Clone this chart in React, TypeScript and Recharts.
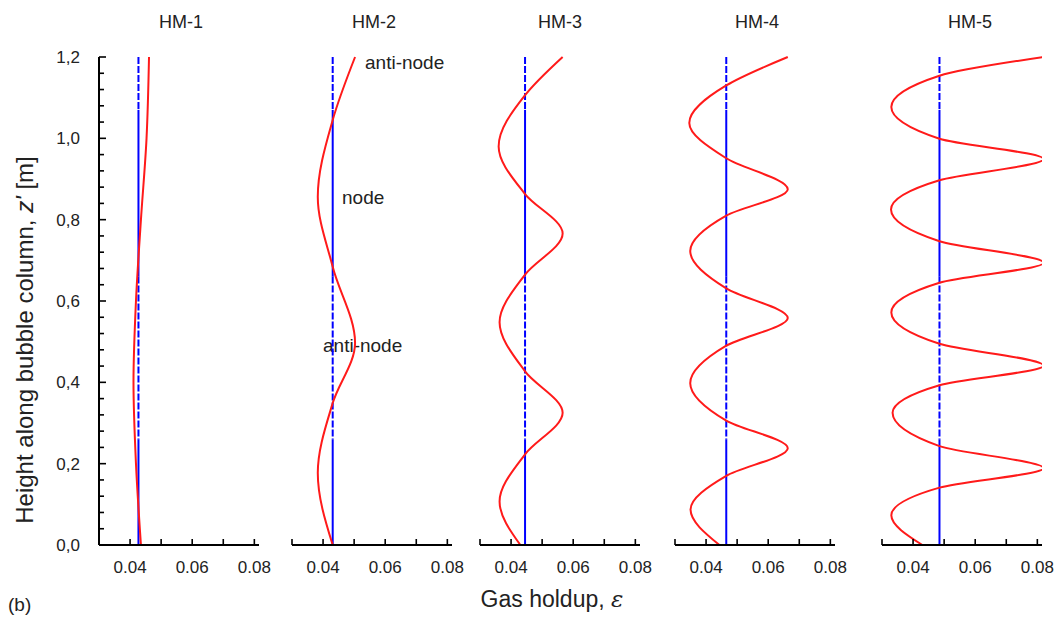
import React from "react";
import { LineChart, Line, XAxis, YAxis, ReferenceLine } from "recharts";

// panel titles
const panelTitles = ["HM-1", "HM-2", "HM-3", "HM-4", "HM-5"];

// height along the column z' [m] and gas holdup
const hm1Height = [1.2, 1.0, 0.8, 0.6, 0.4, 0.2, 0.0];
const hm1Holdup = [0.0461, 0.0453, 0.0435, 0.0419, 0.0411, 0.0419, 0.0435];

const hm2Height = [1.2, 1.045, 0.856, 0.684, 0.497, 0.349, 0.177, 0.0];
const hm2Holdup = [0.0503, 0.0431, 0.0383, 0.0431, 0.0503, 0.0431, 0.0383, 0.0431];

const hm3Height = [1.2, 1.106, 0.98, 0.863, 0.766, 0.665, 0.548, 0.427, 0.325, 0.223, 0.107, 0.0];
const hm3Holdup = [0.0566, 0.0445, 0.036, 0.0445, 0.0566, 0.0445, 0.0363, 0.0445, 0.0566, 0.0445, 0.0363, 0.043];

const hm4Height = [1.2, 1.13, 1.038, 0.951, 0.875, 0.81, 0.723, 0.631, 0.558, 0.49, 0.398, 0.306, 0.238, 0.17, 0.087, 0.0];
const hm4Holdup = [0.0663, 0.0465, 0.0346, 0.0465, 0.0663, 0.0465, 0.0349, 0.0465, 0.0663, 0.0465, 0.0349, 0.0465, 0.0663, 0.0465, 0.035, 0.0443];

const hm5Height = [1.2, 1.154, 1.077, 0.999, 0.949, 0.897, 0.825, 0.747, 0.694, 0.645, 0.572, 0.495, 0.441, 0.393, 0.325, 0.243, 0.189, 0.141, 0.073, 0.0];
const hm5Holdup = [0.082, 0.0485, 0.033, 0.0485, 0.082, 0.0485, 0.0329, 0.0485, 0.082, 0.0485, 0.033, 0.0485, 0.082, 0.0485, 0.0334, 0.0485, 0.082, 0.0485, 0.033, 0.043];

// mean holdup (blue line) per panel
const meanHoldup = [0.0427, 0.0431, 0.0445, 0.0465, 0.0485];

// where the blue line is dashed / solid (z ranges)
const blueDashed = [[1.2, 1.07], [0.66, 0.26]];
const blueSolid = [[1.07, 0.66], [0.26, 0.0]];

// axis ticks
const xTicks = [0.03, 0.04, 0.05, 0.06, 0.07, 0.08];
const xTickLabels = [0.04, 0.06, 0.08];
const yTicks = Array.from({ length: 31 }, (_, i) => Math.round(i * 4) / 100);

const heights = [hm1Height, hm2Height, hm3Height, hm4Height, hm5Height];
const holdups = [hm1Holdup, hm2Holdup, hm3Holdup, hm4Holdup, hm5Holdup];

const FONT = "'Liberation Sans', Arial, Helvetica, sans-serif";
const TEXT = "#222";

const PLOT_TOP = 57;
const PLOT_BOTTOM = 545;
const CHART_H = 619;
const X_AXIS_H = 30;
const PAD_L = 60;
const PAD_R = 15;
const PLOT_W = 160;
const panelLeft = [99, 292, 480, 675, 882];
const titleX = [181, 374, 560, 757, 970];

const XTick = (props: any) => {
  const { x, y, payload } = props;
  const v = payload.value;
  const show = xTickLabels.some((t) => Math.abs(t - v) < 1e-6);
  return (
    <g>
      <line x1={x} y1={y} x2={x} y2={y - 6} stroke="#000" strokeWidth={1.6} />
      {show && (
        <text x={x} y={y + 28} textAnchor="middle" fontSize={17} fontFamily={FONT} fill={TEXT}>
          {v.toFixed(2)}
        </text>
      )}
    </g>
  );
};

const YTick = (props: any) => {
  const { x, y, payload } = props;
  const v = payload.value;
  const major = Math.abs(v * 5 - Math.round(v * 5)) < 1e-6;
  return (
    <g>
      <line x1={x} y1={y} x2={x + (major ? 7 : 5)} y2={y} stroke="#000" strokeWidth={1.6} />
      {major && (
        <text x={x - 19} y={y + 6} textAnchor="end" fontSize={17} fontFamily={FONT} fill={TEXT}>
          {v.toFixed(1).replace(".", ",")}
        </text>
      )}
    </g>
  );
};

function Panel({ index }: { index: number }) {
  const data = heights[index].map((z, i) => ({ z, eps: holdups[index][i] }));
  const mean = meanHoldup[index];
  const first = index === 0;
  return (
    <div style={{ position: "absolute", left: panelLeft[index] - PAD_L, top: 0 }}>
      <LineChart
        width={PAD_L + PLOT_W + PAD_R}
        height={CHART_H}
        data={data}
        layout="vertical"
        margin={{ top: PLOT_TOP, right: PAD_R, bottom: CHART_H - PLOT_BOTTOM - X_AXIS_H, left: first ? PAD_L - 40 : PAD_L }}
      >
        <XAxis
          type="number"
          domain={[0.03, 0.0815]}
          ticks={xTicks}
          interval={0}
          allowDataOverflow
          height={X_AXIS_H}
          tickSize={0}
          tickMargin={0}
          tickLine={false}
          tick={<XTick />}
          axisLine={{ stroke: "#000", strokeWidth: 2 }}
        />
        <YAxis
          type="number"
          dataKey="z"
          domain={[0, 1.2]}
          reversed
          ticks={yTicks}
          interval={0}
          hide={!first}
          width={40}
          tickSize={0}
          tickMargin={0}
          tickLine={false}
          tick={<YTick />}
          axisLine={{ stroke: "#000", strokeWidth: 2 }}
        />
        {blueSolid.map(([a, b], i) => (
          <ReferenceLine
            key={`s${i}`}
            segment={[{ x: mean, y: a }, { x: mean, y: b }]}
            stroke="#0000ff"
            strokeWidth={2}
          />
        ))}
        {blueDashed.map(([a, b], i) => (
          <ReferenceLine
            key={`d${i}`}
            segment={[{ x: mean, y: a }, { x: mean, y: b }]}
            stroke="#0000ff"
            strokeWidth={2}
            strokeDasharray="7 2"
          />
        ))}
        <Line
          dataKey="eps"
          type="monotoneY"
          stroke="#ff1a1a"
          strokeWidth={2}
          dot={false}
          isAnimationActive={false}
        />
      </LineChart>
    </div>
  );
}

export default function App() {
  return (
    <div
      style={{
        position: "absolute",
        left: 0,
        top: 0,
        width: 1058,
        height: 619,
        overflow: "hidden",
        background: "#fff",
        fontFamily: FONT,
      }}
    >
      <svg width={1058} height={619} style={{ position: "absolute", left: 0, top: 0 }}>
        {panelTitles.map((t, i) => (
          <text key={t} x={titleX[i]} y={28} textAnchor="middle" fontSize={18} fill={TEXT}>
            {t}
          </text>
        ))}
        <text x={365} y={69} fontSize={19} fill={TEXT}>anti-node</text>
        <text x={342} y={204} fontSize={19} fill={TEXT}>node</text>
        <text x={323} y={352} fontSize={19} fill={TEXT}>anti-node</text>
        <text transform="translate(33,340) rotate(-90)" textAnchor="middle" fontSize={24} fill={TEXT}>
          Height along bubble column, <tspan fontStyle="italic">z'</tspan> [m]
        </text>
        <text x={552} y={607} textAnchor="middle" fontSize={23} fill={TEXT}>
          Gas holdup, <tspan fontStyle="italic" fontFamily="'DejaVu Serif', serif">ε</tspan>
        </text>
        <text x={8} y={611} fontSize={19} fill={TEXT}>(b)</text>
      </svg>
      {panelTitles.map((t, i) => (
        <Panel key={t} index={i} />
      ))}
    </div>
  );
}
